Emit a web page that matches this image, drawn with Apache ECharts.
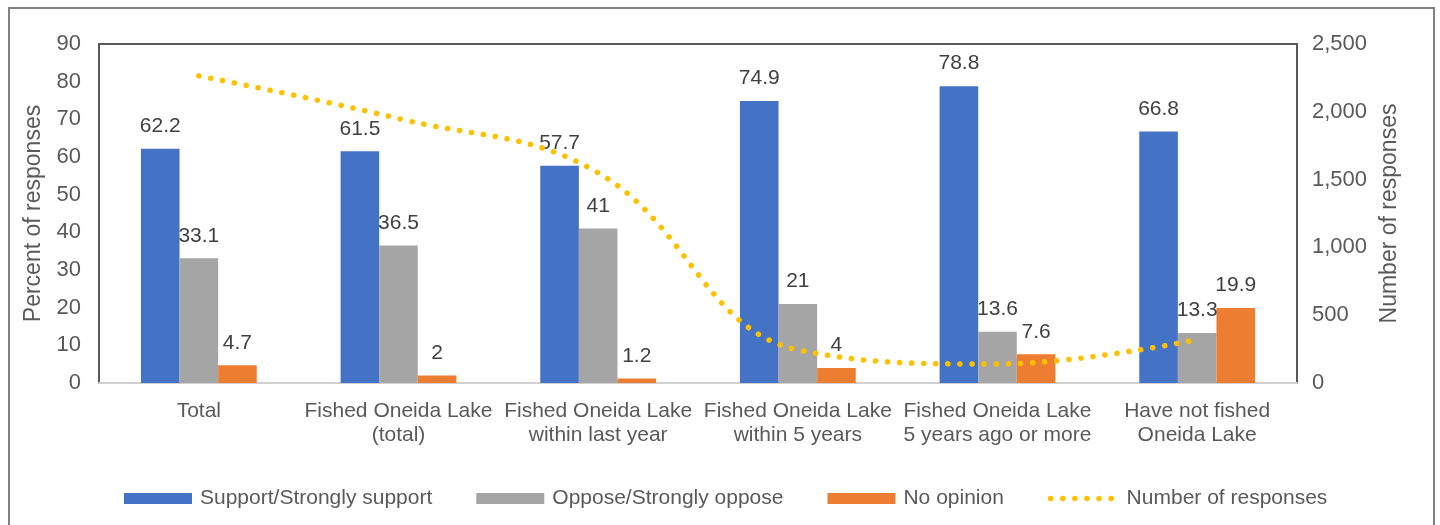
<!DOCTYPE html>
<html>
<head>
<meta charset="utf-8">
<script src="https://cdn.jsdelivr.net/npm/echarts@6/dist/echarts.min.js"></script>
<style>
html,body{margin:0;padding:0;background:#fff;}
#chart{width:1440px;height:525px;}
</style>
</head>
<body>
<div id="chart"></div>
<script>
var categories = ["Total", "Fished Oneida Lake\n(total)", "Fished Oneida Lake\nwithin last year", "Fished Oneida Lake\nwithin 5 years", "Fished Oneida Lake\n5 years ago or more", "Have not fished\nOneida Lake"];
var support = [62.2, 61.5, 57.7, 74.9, 78.8, 66.8];
var oppose = [33.1, 36.5, 41, 21, 13.6, 13.3];
var noOpinion = [4.7, 2, 1.2, 4, 7.6, 19.9];
var responses = [2265, 1950, 1550, 245, 140, 320];
var seriesNames = ["Support/Strongly support", "Oppose/Strongly oppose", "No opinion", "Number of responses"];

var FONT = "Liberation Sans, Arial, sans-serif";
var chart = echarts.init(document.getElementById('chart'), null, {renderer: 'canvas'});

function barSeries(name, data, color) {
  return {
    name: name, type: 'bar', data: data, yAxisIndex: 0,
    barGap: '0%', barCategoryGap: '42%',
    itemStyle: {color: color},
    label: {show: true, position: 'top', distance: 12, color: '#404040', fontSize: 21, fontFamily: FONT},
    z: 2
  };
}

var dotLine = {color: '#FFC000', width: 5.5, type: [0.1, 12], cap: 'round'};

chart.setOption({
  animation: false,
  backgroundColor: '#ffffff',
  textStyle: {fontFamily: FONT},
  graphic: [{
    type: 'rect', shape: {x: 9, y: 8, width: 1425, height: 540},
    style: {fill: 'none', stroke: '#808080', lineWidth: 2}, silent: true, z: -1
  }],
  grid: {left: 99, right: 143, top: 44, bottom: 142, show: true, borderColor: '#595959', borderWidth: 2, backgroundColor: 'transparent'},
  legend: {
    data: [
      {name: seriesNames[0], icon: 'rect'},
      {name: seriesNames[1], icon: 'rect'},
      {name: seriesNames[2], icon: 'rect'},
      {name: seriesNames[3], itemStyle: {color: 'rgba(0,0,0,0)', borderWidth: 0, opacity: 0}, lineStyle: dotLine}
    ],
    left: 119, top: 483, itemWidth: 68, itemHeight: 11, itemGap: 44,
    textStyle: {color: '#595959', fontSize: 21, fontFamily: FONT, padding: [0, 0, 0, 3]}
  },
  xAxis: {
    type: 'category', data: categories,
    axisLine: {show: true, lineStyle: {color: '#d0d0d0', width: 2}},
    axisTick: {show: false},
    axisLabel: {color: '#595959', fontSize: 21, fontFamily: FONT, margin: 16, lineHeight: 24, interval: 0}
  },
  yAxis: [{
    type: 'value', min: 0, max: 90, interval: 10,
    name: 'Percent of responses', nameLocation: 'middle', nameGap: 50,
    nameTextStyle: {color: '#595959', fontSize: 23, fontFamily: FONT},
    axisLine: {show: false}, axisTick: {show: false}, splitLine: {show: false},
    axisLabel: {color: '#595959', fontSize: 22, fontFamily: FONT, margin: 18}
  }, {
    type: 'value', min: 0, max: 2500, interval: 500, position: 'right',
    name: 'Number of responses', nameLocation: 'middle', nameGap: 81, nameRotate: 90,
    nameTextStyle: {color: '#595959', fontSize: 23, fontFamily: FONT},
    axisLine: {show: false}, axisTick: {show: false}, splitLine: {show: false},
    axisLabel: {color: '#595959', fontSize: 22, fontFamily: FONT, margin: 15}
  }],
  series: [
    barSeries(seriesNames[0], support, '#4472C4'),
    barSeries(seriesNames[1], oppose, '#A5A5A5'),
    barSeries(seriesNames[2], noOpinion, '#ED7D31'),
    {
      name: seriesNames[3], type: 'line', data: responses, yAxisIndex: 1,
      smooth: 0.4, symbol: 'none', showSymbol: false,
      lineStyle: dotLine,
      itemStyle: {color: '#FFC000'},
      z: 3
    }
  ]
});
</script>
</body>
</html>
